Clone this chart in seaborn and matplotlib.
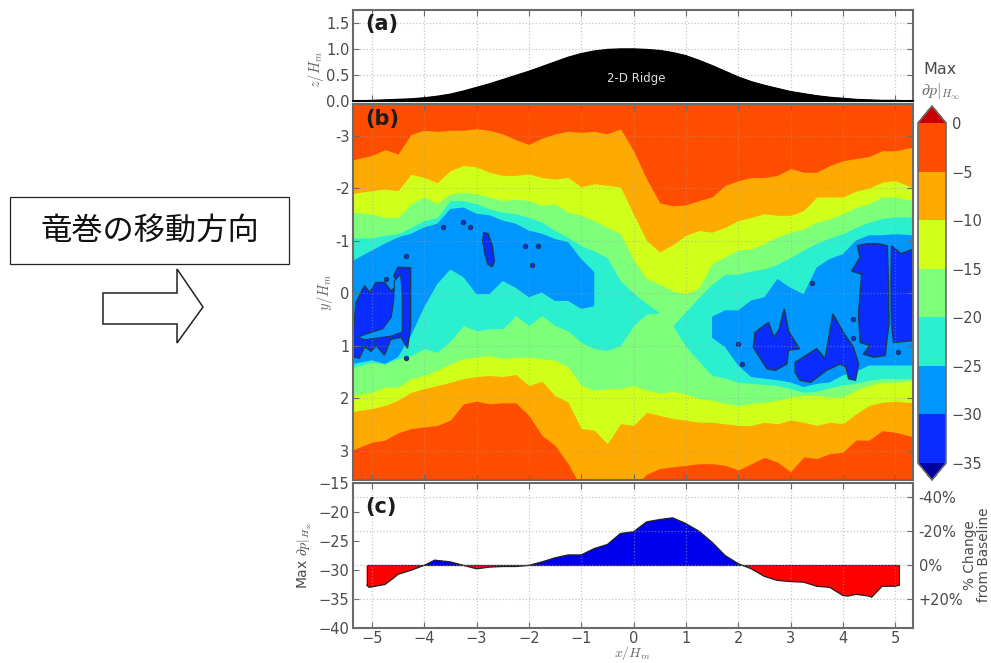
from matplotlib import pyplot as plt
from matplotlib.cm import ScalarMappable
from matplotlib.colors import BoundaryNorm, ListedColormap
from matplotlib.patches import Polygon, Rectangle
import numpy as np
import pandas as pd
import seaborn as sns

W, H = 991, 663
nan = np.nan

##########
## DATA ##
##########

# Stations along the ridge, x/Hm
x_stations = [-5.35, -5, -4.75, -4.5, -4.25, -4, -3.75, -3.5, -3.25, -3, -2.75,
              -2.5, -2.25, -2, -1.75, -1.5, -1.25, -1, -0.75, -0.5, -0.25,
              0,
              0.25, 0.5, 0.75, 1, 1.25, 1.5, 1.75, 2, 2.25, 2.5, 2.75, 3, 3.25,
              3.5, 3.75, 4, 4.25, 4.5, 4.75, 5, 5.35]

ridge_height = [0, 0.01, 0.02, 0.03, 0.04, 0.06, 0.09, 0.13, 0.19, 0.26, 0.33,
                0.41, 0.49, 0.57, 0.66, 0.75, 0.84, 0.91, 0.96, 0.99, 1,
                1,
                0.99, 0.97, 0.93, 0.87, 0.78, 0.68, 0.57, 0.46, 0.37, 0.3, 0.24,
                0.18, 0.14, 0.1, 0.07, 0.05, 0.03, 0.02, 0.01, 0.01, 0]

# y/Hm where each pressure level is crossed, north (top) and south (bot) side
top_5 = [-2.54, -2.62, -2.73, -2.65, -3.02, -3.10, -3.08, -3.10, -3.10, -3.13, -3.10,
         -3.03, -2.92, -2.83, -2.95, -3.03, -3.08, -3.06, -3.08, -3.03, -3.13,
         -2.71,
         -2.17, -1.72, -1.66, -1.68, -1.76, -1.83, -2.05, -2.14, -2.20, -2.20, -2.24,
         -2.37, -2.30, -2.30, -2.43, -2.52, -2.56, -2.60, -2.71, -2.71, -2.78]
top_10 = [-1.90, -1.95, -1.98, -1.95, -2.26, -2.20, -2.10, -2.33, -2.43, -2.40, -2.30,
          -2.24, -2.24, -2.27, -2.20, -2.17, -2.20, -2.02, -2.08, -2.05, -2.02,
          -1.50,
          -1.00, -0.78, -0.92, -1.10, -1.19, -1.16, -1.25, -1.38, -1.44, -1.51, -1.48,
          -1.48, -1.57, -1.83, -1.83, -1.83, -1.94, -2.00, -2.11, -2.14, -2.00]
top_15 = [-1.54, -1.50, -1.44, -1.44, -1.70, -1.83, -1.70, -1.89, -1.92, -1.89, -1.83,
          -1.76, -1.79, -1.76, -1.67, -1.70, -1.54, -1.48, -1.38, -1.25, -1.13,
          -0.63,
          -0.27, -0.17, -0.04, 0.02, -0.10, -0.56, -0.69, -0.82, -0.84, -0.94, -1.07,
          -1.16, -1.22, -1.35, -1.41, -1.51, -1.63, -1.70, -1.83, -1.83, -1.76]
top_20 = [-1.05, -1.05, -1.10, -1.13, -1.25, -1.38, -1.44, -1.76, -1.76, -1.70, -1.60,
          -1.54, -1.51, -1.44, -1.35, -1.19, -1.06, -0.90, -0.80, -0.67, -0.23,
          0.00,
          0.20, 0.38, 0.62, 0.35, 0.08, -0.17, -0.36, -0.36, -0.42, -0.46, -0.55,
          -0.68, -0.82, -0.95, -1.05, -1.13, -1.25, -1.35, -1.42, -1.45, -1.45]
top_25 = [-0.62, -0.81, -0.94, -1.06, -1.13, -1.25, -1.32, -1.60, -1.63, -1.51, -1.48,
          -1.38, -1.32, -1.19, -1.13, -1.03, -0.97, -0.65, -0.40, nan, nan,
          nan,
          nan, nan, nan, nan, nan, 0.45, 0.33, 0.33, 0.14, 0.08, -0.27,
          -0.10, 0.02, -0.49, -0.65, -0.74, -1.00, -1.10, -1.10, -1.12, -1.10]
bot_25 = [1.35, 1.28, 1.35, 1.22, 0.81, 0.27, -0.17, -0.45, -0.30, 0.02, 0.02,
          -0.23, -0.10, 0.08, -0.01, 0.15, 0.15, 0.30, 0.25, nan, nan,
          nan,
          nan, nan, nan, nan, nan, 0.85, 1.03, 1.38, 1.60, 1.63, 1.66,
          1.70, 1.79, 1.73, 1.70, 1.57, 1.50, 1.38, 1.38, 1.38, 1.38]
bot_20 = [1.41, 1.32, 1.35, 1.25, 1.19, 1.06, 1.13, 0.91, 0.62, 0.72, 0.68,
          0.68, 0.43, 0.62, 0.43, 0.62, 0.72, 0.94, 1.06, 1.09, 1.00,
          0.62,
          0.40, 0.38, 0.62, 1.02, 1.30, 1.57, 1.62, 1.70, 1.72, 1.74, 1.76,
          1.82, 1.89, 1.87, 1.80, 1.75, 1.72, 1.66, 1.63, 1.63, 1.63]
bot_15 = [1.95, 1.89, 1.79, 1.79, 1.63, 1.57, 1.47, 1.35, 1.25, 1.22, 1.19,
          1.25, 1.22, 1.22, 1.25, 1.28, 1.41, 1.76, 1.85, 1.82, 1.82,
          1.76,
          1.85, 1.90, 1.87, 1.92, 2.01, 2.04, 2.10, 2.14, 2.10, 2.08, 2.04,
          1.98, 1.95, 1.95, 1.98, 1.98, 1.85, 1.76, 1.70, 1.70, 1.66]
bot_10 = [2.25, 2.20, 2.14, 2.04, 1.89, 1.82, 1.76, 1.70, 1.63, 1.59, 1.57,
          1.59, 1.55, 1.76, 1.68, 1.95, 2.08, 2.58, 2.61, 2.87, 2.49,
          2.52,
          2.27, 2.33, 2.39, 2.42, 2.46, 2.46, 2.49, 2.52, 2.52, 2.46, 2.49,
          2.42, 2.46, 2.52, 2.46, 2.49, 2.30, 2.14, 2.08, 2.06, 2.09]
bot_5 = [2.98, 2.84, 2.80, 2.66, 2.58, 2.55, 2.52, 2.42, 2.11, 2.06, 2.11,
         2.09, 2.09, 2.33, 2.71, 2.90, 3.25, 3.70, 3.70, 3.70, 3.70,
         3.70,
         3.45, 3.34, 3.31, 3.28, 3.25, 3.25, 3.28, 3.37, 3.25, 3.13, 3.22,
         3.40, 3.12, 3.15, 3.06, 3.03, 2.80, 2.80, 2.62, 2.65, 2.74]

# Closed -30 contours (x/Hm, y/Hm)
core_left_x = [-5.36, -5.24, -5.14, -5.01, -4.92, -4.76, -4.64, -4.44, -4.32, -4.26, -4.26,
               -4.5, -4.58, -4.49, -4.63, -4.76, -4.92, -5.04, -5.14, -5.3, -5.36]
core_left_y = [1.21, 1.24, 1.02, 1.11, 0.99, 1.18, 0.88, 0.84, 1.05, 0.64, -0.48,
               -0.49, -0.33, -0.17, -0.04, -0.2, -0.2, -0.01, -0.14, 0.18, 0.77]
core_upper_x = [-2.86, -2.78, -2.7, -2.66, -2.7, -2.78, -2.84, -2.88]
core_upper_y = [-1.15, -1.13, -0.9, -0.6, -0.5, -0.55, -0.75, -1.0]
core_mid_x = [2.32, 2.58, 2.68, 2.78, 2.88, 2.96, 3.17, 2.96, 2.93, 2.71, 2.55, 2.39, 2.29]
core_mid_y = [0.75, 0.56, 0.84, 0.7, 0.3, 0.72, 1.06, 1.09, 1.35, 1.47, 1.44, 1.19, 1.03]
core_south_x = [3.09, 3.5, 3.66, 3.81, 4.01, 4.2, 4.3, 4.24, 4.11, 4.06, 3.95, 3.69, 3.38, 3.18, 3.09]
core_south_y = [1.32, 1.06, 1.25, 0.4, 0.75, 1.03, 1.35, 1.66, 1.63, 1.41, 1.35, 1.47, 1.7, 1.66, 1.51]
core_east_x = [4.17, 4.33, 4.28, 4.47, 4.66, 4.85, 4.87, 4.88, 4.84, 4.81, 4.59, 4.39, 4.52, 4.33, 4.3, 4.36]
core_east_y = [-0.42, -0.68, -0.9, -0.94, -0.94, -0.9, -0.17, 0.59, 0.9, 1.19, 1.22, 1.16, 1.0, 0.94, 0.4, -0.36]
core_edge_x = [4.93, 5.11, 5.36, 5.36, 4.97, 4.93, 4.92]
core_edge_y = [-0.9, -0.75, -0.84, 0.9, 0.94, 0.59, -0.17]

# Hole of -25 air inside the left core
hole_x = [-4.57, -4.45, -4.42, -4.42, -4.63, -4.92, -5.14, -5.27, -5.08, -4.79, -4.63, -4.58]
hole_y = [-0.23, -0.36, 0.02, 0.74, 0.82, 0.86, 0.89, 0.84, 0.77, 0.68, 0.46, 0.14]

# Isolated little -30 spots
spot_x = [-4.73, -4.34, -4.34, -3.64, -3.25, -3.13, -2.07, -1.82, -1.94,
          3.41, 2.0, 2.07, 5.06, 4.2, 4.2]
spot_y = [-0.26, -0.7, 1.24, -1.25, -1.35, -1.25, -0.9, -0.89, -0.54,
          -0.19, 0.97, 1.35, 1.13, 0.85, 0.49]

# Panel (c): max pressure deficit along the track
profile_x = [-5.1, -5.05, -5, -4.75, -4.6, -4.5, -4.25, -4, -3.8, -3.5, -3.25, -3, -2.75,
             -2.5, -2.25, -2, -1.75, -1.5, -1.25, -1, -0.75, -0.5, -0.25, 0,
             0.25, 0.5, 0.75, 1, 1.25, 1.5, 1.75, 2, 2.25, 2.5, 2.75, 3, 3.25, 3.5,
             3.75, 4, 4.1, 4.25, 4.5, 4.55, 4.75, 5, 5.08]
profile_dp = [-32.6, -33.0, -32.9, -32.5, -31.5, -30.75, -30.05, -29.2, -28.3, -28.6, -29.2, -29.8, -29.5,
              -29.4, -29.4, -29.2, -28.6, -27.9, -27.4, -27.4, -26.3, -25.6, -23.7, -23.4,
              -21.7, -21.3, -21.0, -22.0, -23.3, -25.2, -27.5, -28.9, -29.8, -31.1, -31.8, -32.0, -32.1, -32.8,
              -33.0, -34.4, -34.5, -34.2, -34.5, -34.7, -32.8, -32.8, -32.6]
baseline_dp = -29.15

levels = [-35, -30, -25, -20, -15, -10, -5, 0]
level_colors = ["#0a2cff", "#0096ff", "#2bf0d0", "#7dff7a", "#d0ff1a", "#ffaa00", "#ff4d00"]
z_ticks = [0, 0.5, 1, 1.5]
y_ticks = [-3, -2, -1, 0, 1, 2, 3]
x_ticks = [-5, -4, -3, -2, -1, 0, 1, 2, 3, 4, 5]
dp_ticks = [-40, -35, -30, -25, -20, -15]
pct_ticks = [-40, -20, 0, 20]
pct_labels = ["-40%", "-20%", "0%", "+20%"]

##############
## PLOTTING ##
##############

sns.set_style("ticks")
plt.rcParams["font.family"] = ["DejaVu Sans", "Noto Sans CJK JP"]
plt.rcParams["mathtext.fontset"] = "cm"
TEXT = "#4a4a4a"
SPINE = "#6a6a6a"
LINE = "#1d3a55"
plt.rcParams.update({"text.color": TEXT, "xtick.labelcolor": TEXT, "ytick.labelcolor": TEXT,
                     "xtick.color": SPINE, "ytick.color": SPINE,
                     "axes.edgecolor": SPINE, "axes.linewidth": 1.5,
                     "font.size": 10.5})

fig = plt.figure(figsize=(W / 100, H / 100), dpi=100)


def px_axes(left, top, right, bottom):
    return fig.add_axes([left / W, 1 - bottom / H, (right - left) / W, (bottom - top) / H])


def dress(ax, grid_alpha=0.6):
    ax.set_xlim(-5.36, 5.34)
    ax.set_xticks(x_ticks)
    ax.tick_params(direction="in", length=4, width=0.8, top=True, right=True, labelsize=10.5, pad=2.5)
    ax.grid(True, color="#a0a0a0", linestyle=":", linewidth=0.9, alpha=grid_alpha)
    ax.set_axisbelow(False)
    ax.set_xlabel("")
    ax.set_ylabel("")


x = np.array(x_stations)

# (a) ridge shape
ax_a = px_axes(353, 10, 913, 101)
ridge = pd.DataFrame({"x": x_stations, "z": ridge_height})
ax_a.fill_between(ridge.x, 0, ridge.z, color="black", zorder=3)
sns.lineplot(data=ridge, x="x", y="z", color="black", linewidth=1, estimator=None, ax=ax_a, zorder=3)
dress(ax_a)
ax_a.set_ylim(0, 1.75)
ax_a.set_yticks(z_ticks, ["0.0", "0.5", "1.0", "1.5"])
ax_a.tick_params(labelbottom=False)
ax_a.spines["bottom"].set_color("black")
ax_a.text(0.05, 0.25, "2-D Ridge", color="#dddddd", fontsize=8.5, ha="center", va="center",
          transform=ax_a.get_xaxis_transform(), zorder=4)
ax_a.text(0.021, 0.85, "(a)", fontsize=15, fontweight="bold", color="#1c1c1c", va="center",
          transform=ax_a.transAxes, zorder=5)

# (b) pressure deficit map, nested bands from the outside in
ax_b = px_axes(353, 104, 913, 480)
ax_b.set_facecolor(level_colors[6])
bands = [(top_5, bot_5, level_colors[5]), (top_10, bot_10, level_colors[4]),
         (top_15, bot_15, level_colors[3]), (top_20, bot_20, level_colors[2]),
         (top_25, bot_25, level_colors[1])]
for top, bot, colour in bands:
    ax_b.fill_between(x, top, bot, color=colour, linewidth=0, zorder=1)

cores = [(core_left_x, core_left_y), (core_upper_x, core_upper_y), (core_mid_x, core_mid_y),
         (core_south_x, core_south_y), (core_east_x, core_east_y), (core_edge_x, core_edge_y)]
for cx, cy in cores:
    ax_b.fill(cx, cy, facecolor=level_colors[0], edgecolor=LINE, linewidth=1.1, zorder=1.5)
ax_b.fill(hole_x, hole_y, facecolor=level_colors[1], edgecolor=LINE, linewidth=0.8, zorder=1.6)
sns.scatterplot(x=spot_x, y=spot_y, s=9, color=level_colors[0], edgecolor=LINE, linewidth=0.9,
                ax=ax_b, zorder=1.7)
dress(ax_b, grid_alpha=0.45)
ax_b.set_ylim(3.56, -3.6)
ax_b.set_yticks(y_ticks, [str(v) for v in y_ticks])
ax_b.tick_params(labelbottom=False)
ax_b.text(0.021, 0.961, "(b)", fontsize=15, fontweight="bold", color="#1c1c1c", va="center",
          transform=ax_b.transAxes, zorder=5)

# Colour bar
cmap = ListedColormap(level_colors)
cmap.set_under("#0000a0")
cmap.set_over("#c80000")
norm = BoundaryNorm(levels, cmap.N)
cax = px_axes(918, 106, 946, 480)
cbar = fig.colorbar(ScalarMappable(norm=norm, cmap=cmap), cax=cax, extend="both",
                    extendfrac=0.05, ticks=levels, spacing="proportional")
cbar.ax.set_yticklabels(["\u221235", "\u221230", "\u221225", "\u221220", "\u221215", "\u221210", "\u22125", "0"])
cbar.ax.tick_params(length=0, pad=4, labelsize=10.5)
cbar.outline.set_edgecolor(SPINE)
cbar.outline.set_linewidth(1.2)

# (c) profile along the track
ax_c = px_axes(353, 483, 913, 628)
profile = pd.DataFrame({"x": profile_x, "dp": profile_dp})
ax_c.fill_between(profile.x, baseline_dp, profile.dp, where=profile.dp >= baseline_dp,
                  interpolate=True, color="#0000ee", linewidth=0, zorder=2)
ax_c.fill_between(profile.x, baseline_dp, profile.dp, where=profile.dp <= baseline_dp,
                  interpolate=True, color="#ff0000", linewidth=0, zorder=2)
sns.lineplot(data=profile, x="x", y="dp", color="#222222", linewidth=0.9, estimator=None, ax=ax_c, zorder=3)
ax_c.hlines(baseline_dp, profile_x[0], profile_x[-1], color="#222222", linewidth=0.9, zorder=3)
ax_c.vlines(profile_x[-1], profile_dp[-1], baseline_dp, color="#222222", linewidth=0.7, zorder=3)
ax_c.vlines(profile_x[0], profile_dp[0], baseline_dp, color="#222222", linewidth=0.7, zorder=3)
dress(ax_c)
ax_c.grid(False, axis="y")
ax_c.set_ylim(-40, -15)
ax_c.set_yticks(dp_ticks, ["\u221240", "\u221235", "\u221230", "\u221225", "\u221220", "\u221215"])
ax_c.set_xticks(x_ticks, ["\u22125", "\u22124", "\u22123", "\u22122", "\u22121", "0", "1", "2", "3", "4", "5"])
ax_c.tick_params(right=False, axis="y")
ax_c.text(0.021, 0.835, "(c)", fontsize=15, fontweight="bold", color="#1c1c1c", va="center",
          transform=ax_c.transAxes, zorder=5)

ax_pct = ax_c.twinx()
ax_pct.set_ylim((-40 - baseline_dp) / baseline_dp * 100, (-15 - baseline_dp) / baseline_dp * 100)
ax_pct.set_yticks(pct_ticks, pct_labels)
ax_pct.tick_params(direction="in", length=4, width=0.8, labelsize=10.5, pad=4)
ax_pct.grid(True, axis="y", color="#a0a0a0", linestyle=":", linewidth=0.9, alpha=0.6)
ax_pct.set_axisbelow(False)
for spine in ax_pct.spines.values():
    spine.set_visible(False)

# Axis titles placed by hand, as in the figure
fig.text(316 / W, 1 - 70 / H, r"$z/H_m$", rotation=90, ha="center", va="center", fontsize=10.5, color="#666666")
fig.text(325 / W, 1 - 292 / H, r"$y/H_m$", rotation=90, ha="center", va="center", fontsize=10.5, color="#666666")
fig.text(305 / W, 1 - 555 / H, r"Max $\partial p|_{H_\infty}$", rotation=90, ha="center", va="center",
         fontsize=10, color=TEXT)
fig.text(632 / W, 1 - 653 / H, r"$x/H_m$", ha="center", va="center", fontsize=10, color="#666666")
fig.text(940 / W, 1 - 69 / H, "Max", ha="center", va="center", fontsize=11.5, color=TEXT)
fig.text(941 / W, 1 - 92 / H, r"$\partial p|_{H_\infty}$", ha="center", va="center", fontsize=11.5, color="#666666")
fig.text(977 / W, 1 - 555 / H, "% Change\nfrom Baseline", rotation=90, ha="center", va="center",
         fontsize=9.8, color=TEXT, linespacing=1.0)

# Annotation on the left: direction of travel
ax_note = fig.add_axes([0, 0, 1, 1], zorder=-1)
ax_note.set_xlim(0, W)
ax_note.set_ylim(H, 0)
ax_note.axis("off")
ax_note.add_patch(Rectangle((10, 197), 279, 67, facecolor="white", edgecolor="#222222", linewidth=0.9))
ax_note.text(150, 231, "竜巻の移動方向", fontsize=22.5, color="#111111", ha="center", va="center",
             family=["Noto Sans CJK JP", "DejaVu Sans"])
arrow_x = [103, 177, 177, 203, 177, 177, 103]
arrow_y = [293, 293, 269, 307, 343, 324, 324]
ax_note.add_patch(Polygon(np.column_stack([arrow_x, arrow_y]), closed=True, facecolor="white",
                          edgecolor="#222222", linewidth=1.1))

plt.savefig("out.png", dpi=100)
